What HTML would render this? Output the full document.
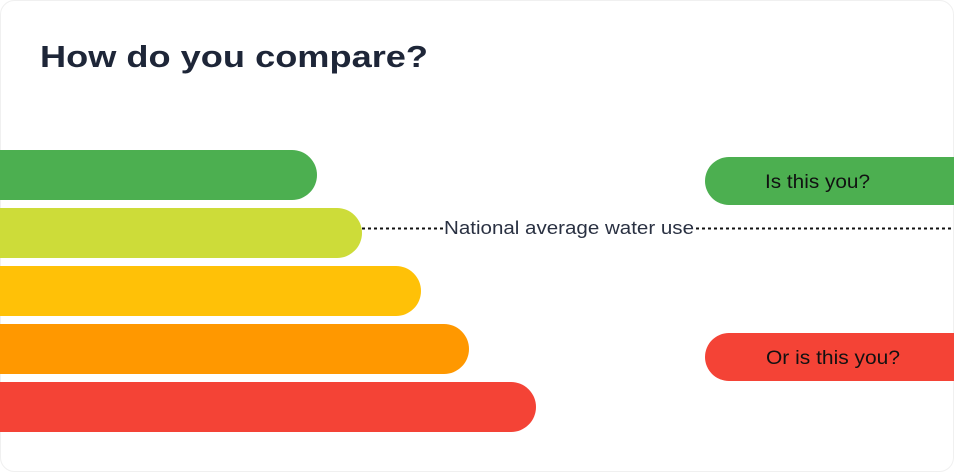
<!DOCTYPE html>
<html><head><meta charset="utf-8"><style>
html,body{margin:0;padding:0;background:#fff;}
svg{display:block;}
</style></head><body>
<svg width="954" height="472" viewBox="0 0 954 472" xmlns="http://www.w3.org/2000/svg" font-family="Liberation Sans, sans-serif">
<rect x="0.5" y="0.5" width="953" height="471" rx="14" fill="#fff" stroke="#f0f0f0"/>
<text x="40" y="67" font-size="31" font-weight="bold" fill="#1e2638" textLength="388" lengthAdjust="spacingAndGlyphs">How do you compare?</text>
<rect x="-30" y="150" width="347" height="50" rx="25" fill="#4caf50"/>
<rect x="-30" y="208" width="392" height="50" rx="25" fill="#cddc39"/>
<rect x="-30" y="266" width="451" height="50" rx="25" fill="#ffc107"/>
<rect x="-30" y="324" width="499" height="50" rx="25" fill="#ff9800"/>
<rect x="-30" y="382" width="566" height="50" rx="25" fill="#f44336"/>
<line x1="362" y1="228.5" x2="443" y2="228.5" stroke="#111" stroke-width="2" stroke-dasharray="3,3"/>
<line x1="696" y1="228.5" x2="954" y2="228.5" stroke="#111" stroke-width="2" stroke-dasharray="3,3"/>
<text x="444" y="234" font-size="18" fill="#2a3142" textLength="250" lengthAdjust="spacingAndGlyphs">National average water use</text>
<rect x="705" y="157" width="300" height="48" rx="24" fill="#4caf50"/>
<text x="765" y="188" font-size="19" fill="#111" textLength="105" lengthAdjust="spacingAndGlyphs">Is this you?</text>
<rect x="705" y="333" width="300" height="48" rx="24" fill="#f44336"/>
<text x="766" y="364" font-size="19" fill="#111" textLength="134" lengthAdjust="spacingAndGlyphs">Or is this you?</text>
</svg>
</body></html>
